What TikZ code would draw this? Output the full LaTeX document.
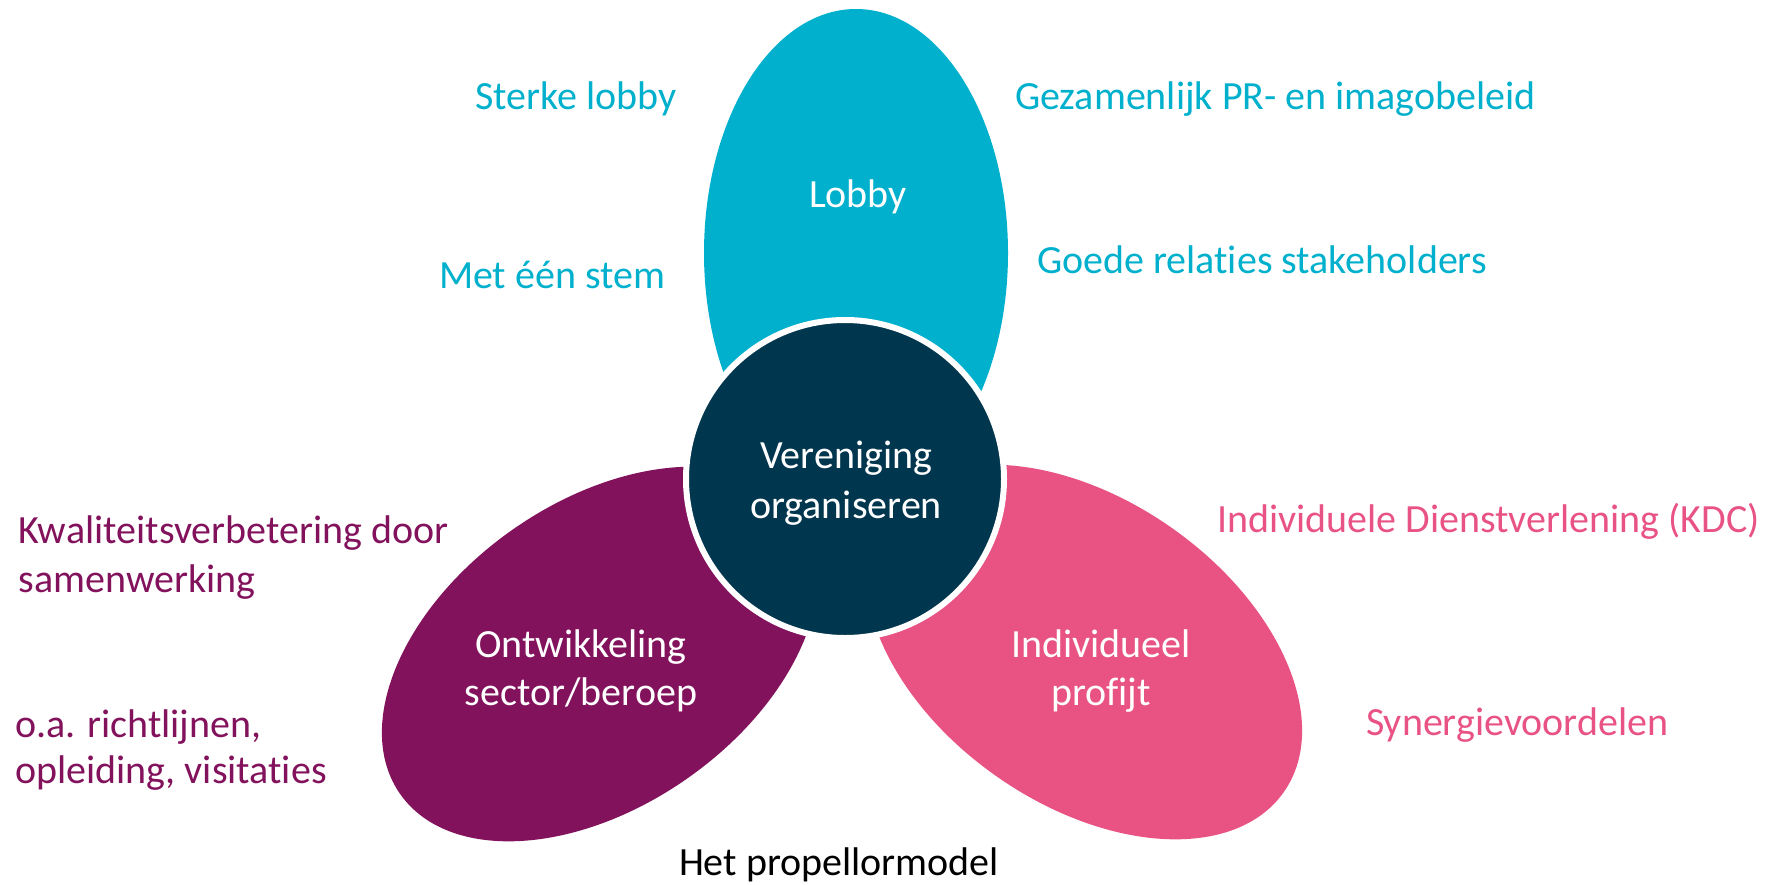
\documentclass[tikz,border=0pt]{standalone}
\usepackage{fontspec}
\setmainfont{Carlito}[Ligatures={NoCommon}]
\definecolor{lobbyc}{RGB}{0,176,204}
\definecolor{purpc}{RGB}{130,18,92}
\definecolor{pinkc}{RGB}{232,83,132}
\definecolor{navyc}{RGB}{0,54,78}
\tikzset{
  txt/.style={inner sep=0pt, outer sep=0pt, font=\fontsize{40}{48}\selectfont},
  lbl/.style={txt, text=white, anchor=base},
}
\begin{document}
\begin{tikzpicture}[x=1pt,y=-1pt]
\useasboundingbox (0,0) rectangle (1778,884);
% blades
\fill[lobbyc] (856,253) ellipse [x radius=152pt, y radius=244pt];
\fill[purpc, rotate around={35:(600,654)}] (600,654) ellipse [x radius=244pt, y radius=152pt];
\fill[pinkc, rotate around={-35:(1084,652)}] (1084,652) ellipse [x radius=244pt, y radius=152pt];
% hub
\node[circle, fill=navyc, draw=white, line width=6pt, minimum size=318pt, inner sep=0pt] (hub) at (845,479) {};
% labels in shapes
\node[lbl] (lobby) at (858,207) {Lobby};
\node[lbl] (ver1) at (846,468) {Vereniging};
\node[lbl] (ver2) at (846,518) {organiseren};
\node[lbl] (ont1) at (581,657) {Ontwikkeling};
\node[lbl] (ont2) at (581,705) {sector/beroep};
\node[lbl] (ind1) at (1101,657) {Individueel};
\node[lbl] (ind2) at (1101,705) {profijt};
% side texts
\node[txt, text=lobbyc, anchor=base west] (t1) at (475,109) {Sterke lobby};
\node[txt, text=lobbyc, anchor=base west] (t2) at (439,288) {Met één stem};
\node[txt, text=lobbyc, anchor=base west] (t3) at (1015,109) {Gezamenlijk PR- en imagobeleid};
\node[txt, text=lobbyc, anchor=base west] (t4) at (1037,273) {Goede relaties stakeholders};
\node[txt, text=purpc, anchor=base west] (t5) at (19,543) {Kwaliteitsverbetering door};
\node[txt, text=purpc, anchor=base west] (t6) at (19,592) {samenwerking};
\node[txt, text=purpc, anchor=base west] (t7) at (15,737) {o.a. richtlijnen,};
\node[txt, text=purpc, anchor=base west] (t8) at (15,783) {opleiding, visitaties};
\node[txt, text=pinkc, anchor=base west] (t9) at (1217,532) {Individuele Dienstverlening (KDC)};
\node[txt, text=pinkc, anchor=base west] (t10) at (1366,735) {Synergievoordelen};
\node[txt, text=black, anchor=base west] (cap) at (679,875) {Het propellormodel};
\end{tikzpicture}
\end{document}
